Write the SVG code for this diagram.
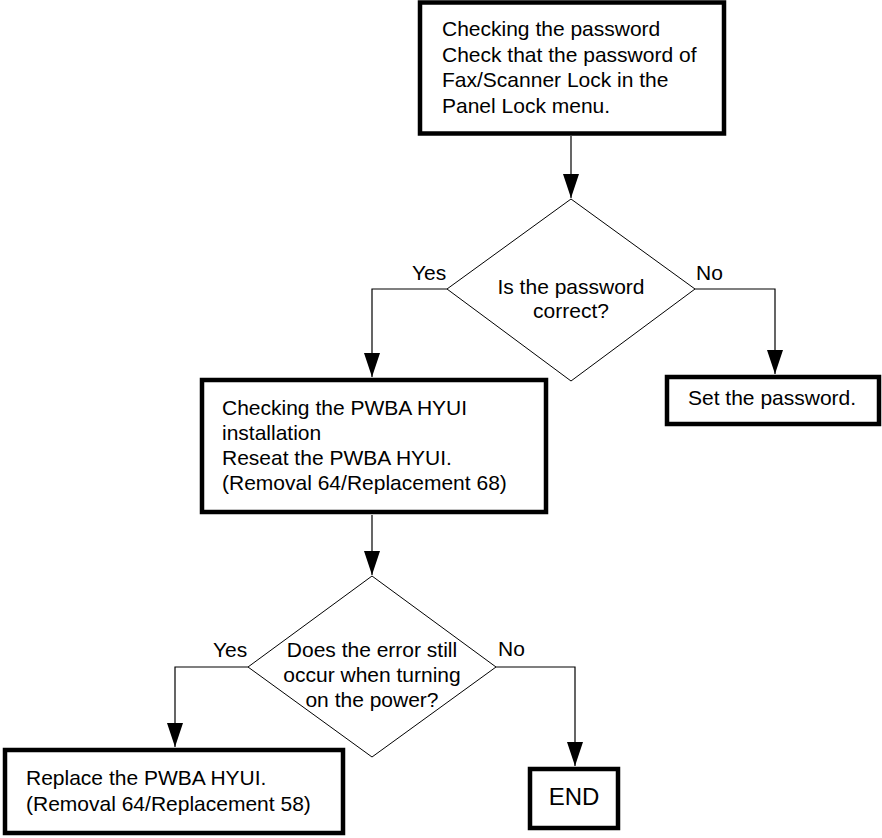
<svg xmlns="http://www.w3.org/2000/svg" width="882" height="838" viewBox="0 0 882 838">
<style>
.box{fill:#fff;stroke:#000;stroke-width:4.5}
.dia{fill:#fff;stroke:#000;stroke-width:1}
.con{fill:none;stroke:#000;stroke-width:1.2}
text{font-family:"Liberation Sans",Arial,sans-serif;font-size:21px;fill:#000}
.c{text-anchor:middle}
</style>
<defs>
<marker id="arr" markerUnits="userSpaceOnUse" markerWidth="24" markerHeight="16" refX="24" refY="8" orient="auto" viewBox="0 0 24 16">
<path d="M0,0 L24,8 L0,16 z" fill="#000"/>
</marker>
</defs>
<rect width="882" height="838" fill="#fff"/>
<g id="connectors">
<path class="con" d="M571,136 V198" marker-end="url(#arr)"/>
<path class="con" d="M447,289 H372 V377" marker-end="url(#arr)"/>
<path class="con" d="M695,289 H775 V374" marker-end="url(#arr)"/>
<path class="con" d="M372,515 V575" marker-end="url(#arr)"/>
<path class="con" d="M248,667 H175 V747" marker-end="url(#arr)"/>
<path class="con" d="M496,667 H575 V766" marker-end="url(#arr)"/>
<text x="412" y="280">Yes</text>
<text x="696" y="280">No</text>
<text x="213" y="657">Yes</text>
<text x="498" y="656">No</text>
</g>
<g id="check-password">
<rect class="box" x="420" y="2.5" width="304" height="131"/>
<text x="442" y="36">Checking the password</text>
<text x="442" y="62">Check that the password of</text>
<text x="442" y="87">Fax/Scanner Lock in the</text>
<text x="442" y="113">Panel Lock menu.</text>
</g>
<g id="decision-password">
<polygon class="dia" points="571,199 695,289 571,381 447,289"/>
<text class="c" x="571" y="294">Is the password</text>
<text class="c" x="571" y="318">correct?</text>
</g>
<g id="set-password">
<rect class="box" x="667" y="377" width="212" height="47"/>
<text x="688" y="405">Set the password.</text>
</g>
<g id="check-hyui">
<rect class="box" x="202" y="380" width="344" height="132"/>
<text x="222" y="415">Checking the PWBA HYUI</text>
<text x="222" y="440">installation</text>
<text x="222" y="465">Reseat the PWBA HYUI.</text>
<text x="222" y="490">(Removal 64/Replacement 68)</text>
</g>
<g id="decision-error">
<polygon class="dia" points="372,576 496,667 372,757 248,667"/>
<text class="c" x="372" y="657">Does the error still</text>
<text class="c" x="372" y="682">occur when turning</text>
<text class="c" x="372" y="707">on the power?</text>
</g>
<g id="replace-hyui">
<rect class="box" x="5" y="750" width="338" height="83"/>
<text x="26" y="785">Replace the PWBA HYUI.</text>
<text x="26" y="811">(Removal 64/Replacement 58)</text>
</g>
<g id="end">
<rect class="box" x="530" y="769" width="88" height="59"/>
<text class="c" x="574" y="805" style="font-size:24px">END</text>
</g>
</svg>
